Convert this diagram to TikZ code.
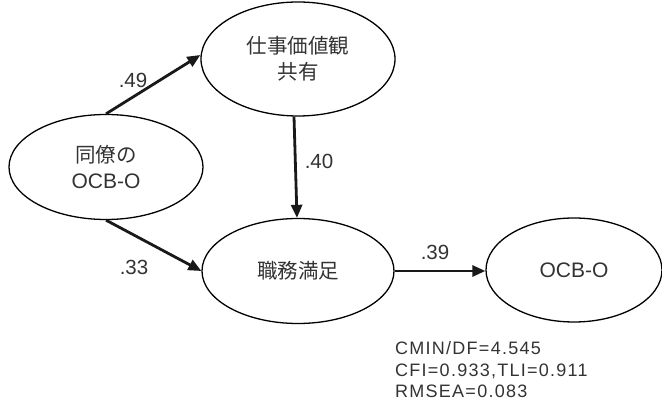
\documentclass[tikz,border=0pt]{standalone}
\usepackage{fontspec}
\setmainfont{Liberation Sans}
\newfontfamily\jp{Noto Sans CJK JP}
\newfontfamily\stat[LetterSpace=7]{Liberation Sans}
\usetikzlibrary{arrows.meta,shapes.geometric}
\definecolor{txt}{gray}{0.2}
\begin{document}
\begin{tikzpicture}[x=1pt,y=-1pt,
  ell/.style={ellipse,draw=black,line width=1.3pt,inner sep=0pt,text=txt,align=center,
     font=\fontsize{21}{27}\selectfont},
  path/.style={line width=2.8pt,draw=black!90,-{Triangle[length=13pt,width=11pt]},shorten >=0pt},
  lab/.style={text=txt,font=\fontsize{20.5}{24}\selectfont,inner sep=0pt},
  statlab/.style={text=txt,font=\stat\fontsize{18}{21.5}\selectfont,inner sep=0pt,anchor=base west}]
\useasboundingbox (0,0) rectangle (662,403);
\node[ell,minimum width=194pt,minimum height=105pt] (A) at (106,167) {{\jp\fontsize{20.5}{27}\selectfont 同僚の}\\[-1pt]OCB-O};
\node[ell,minimum width=194pt,minimum height=114pt] (B) at (298,59) {{\jp\fontsize{20.5}{27}\selectfont 仕事価値観}\\[-1pt]{\jp\fontsize{20.5}{27}\selectfont 共有}};
\node[ell,minimum width=192pt,minimum height=105pt] (C) at (298,271) {\jp\fontsize{20.5}{27}\selectfont 職務満足};
\node[ell,minimum width=176pt,minimum height=104pt] (D) at (574,270) {OCB-O};
\draw[path] (A.north) -- ([yshift=4pt]B.west);
\draw[path] ([xshift=-4pt]B.south) -- ([xshift=-1pt]C.north);
\draw[path] (A.south) -- (C.west);
\draw[path] (C.east) -- ([yshift=-1pt]D.west);
\node[lab] (l49) at (133,80) {.49};
\node[lab] (l40) at (319,161) {.40};
\node[lab] (l33) at (134,267) {.33};
\node[lab] (l39) at (435,252) {.39};
\node[statlab] (s1) at (395,355) {CMIN/DF=4.545};
\node[statlab] (s2) at (395,377) {CFI=0.933,TLI=0.911};
\node[statlab] (s3) at (395,398) {RMSEA=0.083};
\end{tikzpicture}
\end{document}
